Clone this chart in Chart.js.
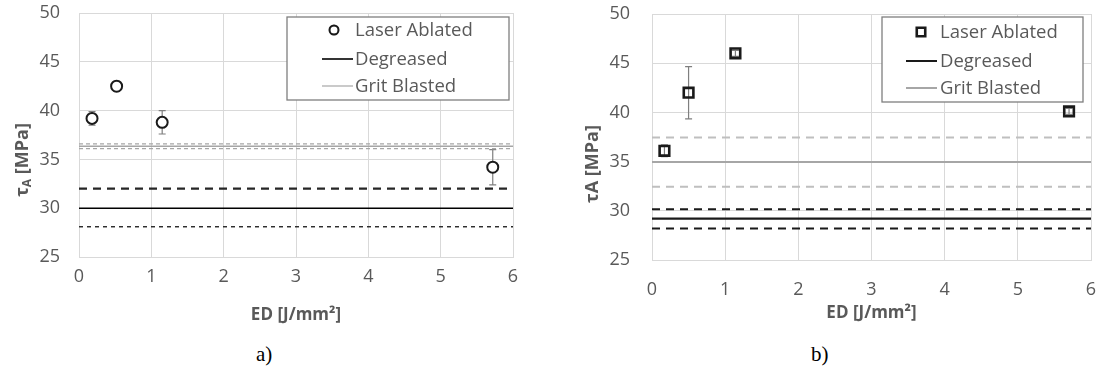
<!DOCTYPE html>
<html>
<head>
<meta charset="utf-8">
<script src="https://cdn.jsdelivr.net/npm/chart.js@4"></script>
<style>
  body { margin: 0; background: #fff; width: 1102px; height: 383px; position: relative; overflow: hidden; }
  .wrap { position: absolute; top: 0; height: 330px; }
  .cap { position: absolute; top: 342px; font: 21px "Liberation Serif", serif; color: #000; }
</style>
</head>
<body>
<div class="wrap" style="left:0;width:545px"><canvas id="chartA"></canvas></div>
<div class="wrap" style="left:551px;width:551px"><canvas id="chartB"></canvas></div>
<div class="cap" style="left:256px">a)</div>
<div class="cap" style="left:811px">b)</div>
<script>
// a) laser ablated shear strength vs energy density
const edA = [0.18, 0.52, 1.15, 5.72];
const tauA = [39.2, 42.5, 38.8, 34.2];
const errA = [0.7, 0.5, 1.2, 1.8];
const degreasedA = [32.0, 30.0, 28.1];   // upper, mean, lower
const gritA = [36.6, 36.35, 36.1];

// b)
const edB = [0.17, 0.5, 1.14, 5.7];
const tauB = [36.1, 42.0, 46.0, 40.1];
const errB = [0.6, 2.65, 0.3, 0.3];
const degreasedB = [30.15, 29.2, 28.2];
const gritB = [37.45, 34.95, 32.45];

const xTicks = [0, 1, 2, 3, 4, 5, 6];
const yTicks = [25, 30, 35, 40, 45, 50];

const GREY_TXT = '#595959';
const FONT = '"Open Sans", sans-serif';

// error bars drawn under the markers
const errorBars = {
  id: 'errorBars',
  beforeDatasetsDraw(chart, args, opts) {
    const { ctx, scales: { x, y } } = chart;
    ctx.save();
    ctx.strokeStyle = '#7f7f7f';
    ctx.lineWidth = 1.2;
    opts.xs.forEach((v, i) => {
      const px = x.getPixelForValue(v);
      const top = y.getPixelForValue(opts.ys[i] + opts.err[i]);
      const bot = y.getPixelForValue(opts.ys[i] - opts.err[i]);
      ctx.beginPath();
      ctx.moveTo(px, top); ctx.lineTo(px, bot);
      ctx.moveTo(px - 3.5, top); ctx.lineTo(px + 3.5, top);
      ctx.moveTo(px - 3.5, bot); ctx.lineTo(px + 3.5, bot);
      ctx.stroke();
    });
    ctx.restore();
  }
};

// boxed legend inside the plot
const boxLegend = {
  id: 'boxLegend',
  afterDraw(chart, args, o) {
    const ctx = chart.ctx;
    ctx.save();
    ctx.fillStyle = '#fff';
    ctx.fillRect(o.x, o.y, o.w, o.h);
    ctx.strokeStyle = '#7f7f7f';
    ctx.lineWidth = 1.3;
    ctx.strokeRect(o.x, o.y, o.w, o.h);
    ctx.font = '18.5px ' + FONT;
    ctx.textBaseline = 'middle';
    ctx.textAlign = 'left';
    o.items.forEach((it, i) => {
      const ry = o.y + o.rows[i];
      if (it.marker) {
        const ds = chart.data.datasets[0];
        Chart.helpers.drawPoint(ctx, {
          pointStyle: ds.pointStyle, radius: it.marker, borderWidth: ds.borderWidth
        }, o.x + o.markX, ry);
        ctx.strokeStyle = ds.borderColor;
        ctx.lineWidth = ds.borderWidth;
        ctx.stroke();
      } else {
        ctx.beginPath();
        ctx.strokeStyle = it.color;
        ctx.lineWidth = it.width;
        ctx.moveTo(o.x + o.line[0], ry);
        ctx.lineTo(o.x + o.line[1], ry);
        ctx.stroke();
      }
      ctx.fillStyle = GREY_TXT;
      ctx.fillText(it.text, o.x + o.textX, ry + 1);
    });
    ctx.restore();
  }
};

// axis titles, y title may carry a subscript part
const axisTitles = {
  id: 'axisTitles',
  afterDraw(chart, args, o) {
    const { ctx, chartArea: a } = chart;
    ctx.save();
    ctx.fillStyle = GREY_TXT;
    ctx.font = 'bold 17px ' + FONT;
    ctx.textAlign = 'center';
    ctx.textBaseline = 'middle';
    ctx.fillText(o.x, (a.left + a.right) / 2, a.bottom + o.xGap);
    ctx.translate(a.left - o.yGap, (a.top + a.bottom) / 2 + o.yShift);
    ctx.rotate(-Math.PI / 2);
    ctx.textAlign = 'left';
    const fontOf = p => p.sub ? 'bold 12px ' + FONT : 'bold 18px ' + FONT;
    let total = 0;
    o.y.forEach(p => { ctx.font = fontOf(p); total += ctx.measureText(p.t).width; });
    let cx = -total / 2;
    o.y.forEach(p => {
      ctx.font = fontOf(p);
      ctx.fillText(p.t, cx, p.sub ? 5 : 0);
      cx += ctx.measureText(p.t).width;
    });
    ctx.restore();
  }
};

function hLine(value, color, width, dash) {
  return {
    type: 'line',
    data: [{ x: 0, y: value }, { x: 6, y: value }],
    borderColor: color, borderWidth: width, borderDash: dash,
    pointRadius: 0, fill: false
  };
}

function makeChart(id, cfg) {
  const points = cfg.ed.map((v, i) => ({ x: v, y: cfg.tau[i] }));
  new Chart(document.getElementById(id), {
    type: 'scatter',
    data: {
      datasets: [
        {
          label: 'Laser Ablated', data: points,
          pointStyle: cfg.pointStyle, pointRadius: cfg.radius,
          borderColor: '#1a1a1a', borderWidth: cfg.markerWidth,
          backgroundColor: cfg.markerFill
        },
        ...cfg.lines
      ]
    },
    options: {
      responsive: true, maintainAspectRatio: false, animation: false,
      layout: { padding: cfg.padding },
      scales: {
        x: {
          type: 'linear', min: 0, max: 6,
          afterBuildTicks: s => { s.ticks = xTicks.map(v => ({ value: v })); },
          afterFit: s => { s.height = cfg.xHeight; s.paddingLeft = 0; s.paddingRight = 0; },
          grid: { color: '#d9d9d9', drawTicks: false },
          border: { color: '#d9d9d9' },
          ticks: { color: GREY_TXT, font: { family: FONT, size: 18 }, padding: cfg.xPad }
        },
        y: {
          min: 25, max: 50,
          afterBuildTicks: s => { s.ticks = yTicks.map(v => ({ value: v })); },
          afterFit: s => { s.width = cfg.yWidth; s.paddingTop = 0; s.paddingBottom = 0; },
          grid: { color: '#d9d9d9', drawTicks: false },
          border: { color: '#d9d9d9' },
          ticks: { color: GREY_TXT, font: { family: FONT, size: 18 }, padding: cfg.yPad }
        }
      },
      plugins: {
        legend: { display: false },
        tooltip: { enabled: false },
        errorBars: { xs: cfg.ed, ys: cfg.tau, err: cfg.err },
        boxLegend: cfg.legend,
        axisTitles: cfg.titles
      }
    },
    plugins: [errorBars, boxLegend, axisTitles]
  });
}

makeChart('chartA', {
  ed: edA, tau: tauA, err: errA,
  pointStyle: 'circle', radius: 5.5, markerWidth: 2, markerFill: '#fff',
  lines: [
    hLine(gritA[0], '#a6a6a6', 1.2, [4, 3]),
    hLine(gritA[1], '#a6a6a6', 1.4, []),
    hLine(gritA[2], '#a6a6a6', 1.2, [4, 3]),
    hLine(degreasedA[0], '#262626', 2.2, [8, 6]),
    hLine(degreasedA[1], '#000', 1.4, []),
    hLine(degreasedA[2], '#262626', 1.4, [4, 4])
  ],
  padding: { top: 13, right: 32, left: 0, bottom: 0 },
  xHeight: 73, yWidth: 79, xPad: 9, yPad: 19,
  legend: {
    x: 287, y: 17, w: 222, h: 83, rows: [13, 42, 69],
    markX: 47, textX: 68, line: [35, 66],
    items: [
      { text: 'Laser Ablated', marker: 4.5 },
      { text: 'Degreased', color: '#000', width: 1.6 },
      { text: 'Grit Blasted', color: '#a6a6a6', width: 1.2 }
    ]
  },
  titles: {
    x: 'ED [J/mm²]', xGap: 58, yGap: 56, yShift: 25,
    y: [{ t: 'τ' }, { t: 'A', sub: true }, { t: ' [MPa]' }]
  }
});

makeChart('chartB', {
  ed: edB, tau: tauB, err: errB,
  pointStyle: 'rect', radius: 6.8, markerWidth: 2.6, markerFill: 'rgba(0,0,0,0)',
  lines: [
    hLine(gritB[0], '#bfbfbf', 2, [8, 6]),
    hLine(gritB[1], '#a6a6a6', 2, []),
    hLine(gritB[2], '#bfbfbf', 2, [8, 6]),
    hLine(degreasedB[0], '#1a1a1a', 2, [8, 6]),
    hLine(degreasedB[1], '#1a1a1a', 2.2, []),
    hLine(degreasedB[2], '#1a1a1a', 2, [8, 6])
  ],
  padding: { top: 14, right: 11, left: 0, bottom: 0 },
  xHeight: 70, yWidth: 101, xPad: 19, yPad: 22,
  legend: {
    x: 331, y: 17, w: 201, h: 85, rows: [15, 44, 71],
    markX: 39, textX: 58, line: [24, 55],
    items: [
      { text: 'Laser Ablated', marker: 6 },
      { text: 'Degreased', color: '#1a1a1a', width: 2 },
      { text: 'Grit Blasted', color: '#a6a6a6', width: 2 }
    ]
  },
  titles: {
    x: 'ED [J/mm²]', xGap: 53, yGap: 59, yShift: 27,
    y: [{ t: 'τA [MPa]' }]
  }
});
</script>
</body>
</html>
